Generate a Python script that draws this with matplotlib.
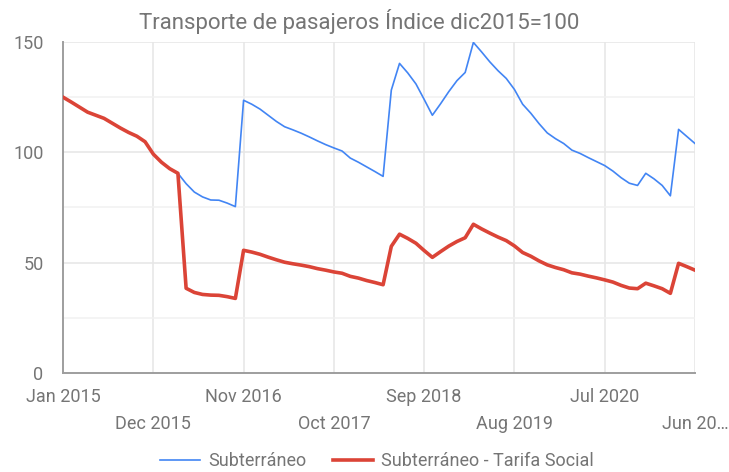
import matplotlib
matplotlib.use("Agg")
import matplotlib.pyplot as plt
from matplotlib.ticker import FixedLocator

plt.rcParams['font.family'] = ['Roboto', 'DejaVu Sans']

title = "Transporte de pasajeros Índice dic2015=100"
series_names = ["Subterráneo", "Subterráneo - Tarifa Social"]

# Monthly values Jan 2015 .. Jun 2021
subte = [125.0, 122.8, 120.5, 118.2, 116.8, 115.4, 113.2, 111.0, 109.0, 107.3,
         104.8, 99.2, 95.5, 92.6, 90.5, 85.8, 82.0, 79.8, 78.4, 78.3,
         77.0, 75.4, 123.6, 121.8, 119.6, 116.8, 114.0, 111.6, 110.2, 108.7,
         107.0, 105.2, 103.5, 102.0, 100.6, 97.4, 95.5, 93.4, 91.3, 89.1,
         128.2, 140.3, 136.0, 131.0, 124.0, 116.8, 122.0, 127.5, 132.5, 136.2,
         149.8, 145.5, 141.0, 137.0, 133.5, 128.5, 121.8, 117.7, 113.0, 108.8,
         106.2, 104.0, 101.0, 99.5, 97.6, 95.8, 94.0, 91.5, 88.5, 86.0,
         85.0, 90.5, 88.0, 85.0, 80.3, 110.4, 107.2, 104.0]

tarifa_social = [125.0, 122.8, 120.5, 118.2, 116.8, 115.4, 113.2, 111.0, 109.0, 107.3,
                 104.8, 99.2, 95.5, 92.6, 90.5, 38.4, 36.5, 35.6, 35.3, 35.2,
                 34.6, 33.8, 55.6, 54.8, 53.8, 52.5, 51.3, 50.2, 49.5, 48.9,
                 48.2, 47.3, 46.6, 45.8, 45.2, 43.8, 43.0, 41.9, 41.0, 40.0,
                 57.4, 62.9, 61.0, 58.8, 55.5, 52.4, 55.0, 57.5, 59.6, 61.3,
                 67.4, 65.3, 63.4, 61.6, 60.0, 57.6, 54.6, 52.9, 50.8, 49.0,
                 47.8, 46.8, 45.4, 44.8, 43.9, 43.1, 42.2, 41.2, 39.7, 38.5,
                 38.2, 40.7, 39.5, 38.2, 36.1, 49.7, 48.2, 46.6]

x_tick_labels = ["Jan 2015", "Dec 2015", "Nov 2016", "Oct 2017",
                 "Sep 2018", "Aug 2019", "Jul 2020", "Jun 20…"]
x_tick_months = [0, 11, 22, 33, 44, 55, 66, 77]
y_ticks = [0, 50, 100, 150]
y_minor = [25, 75, 125]

months = list(range(len(subte)))

W, H = 729, 472
fig = plt.figure(figsize=(W / 100, H / 100), dpi=100)
ax = fig.add_axes([63 / W, 1 - 373 / H, (695 - 63) / W, (373 - 42) / H])

blue = '#4285F4'
red = '#DB4437'
text_c = '#757575'

ax.plot(months, subte, color=blue, lw=1.2, solid_joinstyle='round', zorder=3,
        label=series_names[0])
ax.plot(months, tarifa_social, color=red, lw=2.6, solid_joinstyle='round', zorder=4,
        label=series_names[1])

ax.set_xlim(0, 77)
ax.set_ylim(0, 150)

ax.set_yticks(y_ticks)
ax.set_yticks(y_minor, minor=True)
ax.set_yticklabels([str(v) for v in y_ticks])

major_x = x_tick_months[0::2]
minor_x = x_tick_months[1::2]
ax.xaxis.set_major_locator(FixedLocator(major_x))
ax.xaxis.set_minor_locator(FixedLocator(minor_x))
ax.set_xticklabels(x_tick_labels[0::2])
ax.set_xticklabels(x_tick_labels[1::2], minor=True)

ax.tick_params(axis='both', which='both', length=0, colors=text_c, labelsize=13)
ax.tick_params(axis='x', which='major', pad=11)
ax.tick_params(axis='x', which='minor', pad=30)
ax.tick_params(axis='y', which='major', pad=14)
ax.tick_params(axis='y', which='minor', labelleft=False)

ax.grid(True, which='major', color='#e6e6e6', lw=1.1, zorder=0)
ax.grid(True, which='minor', axis='y', color='#f1f1f1', lw=1.1, zorder=0)
ax.grid(True, which='minor', axis='x', color='#e6e6e6', lw=1.1, zorder=0)
ax.set_axisbelow(True)

for s in ['top', 'right']:
    ax.spines[s].set_visible(False)
for s in ['left', 'bottom']:
    ax.spines[s].set_color('#9e9e9e')
    ax.spines[s].set_linewidth(1.4)

fig.text(359 / W, 1 - 21 / H, title, ha='center', va='center',
         fontsize=16, color=text_c)

leg = fig.legend(loc='center', bbox_to_anchor=(377 / W, 1 - 461 / H), ncol=2,
                 frameon=False, fontsize=13, handlelength=2.2, handletextpad=0.45,
                 columnspacing=1.5)
for t in leg.get_texts():
    t.set_color(text_c)

fig.savefig('out.png', dpi=100, facecolor='white')
